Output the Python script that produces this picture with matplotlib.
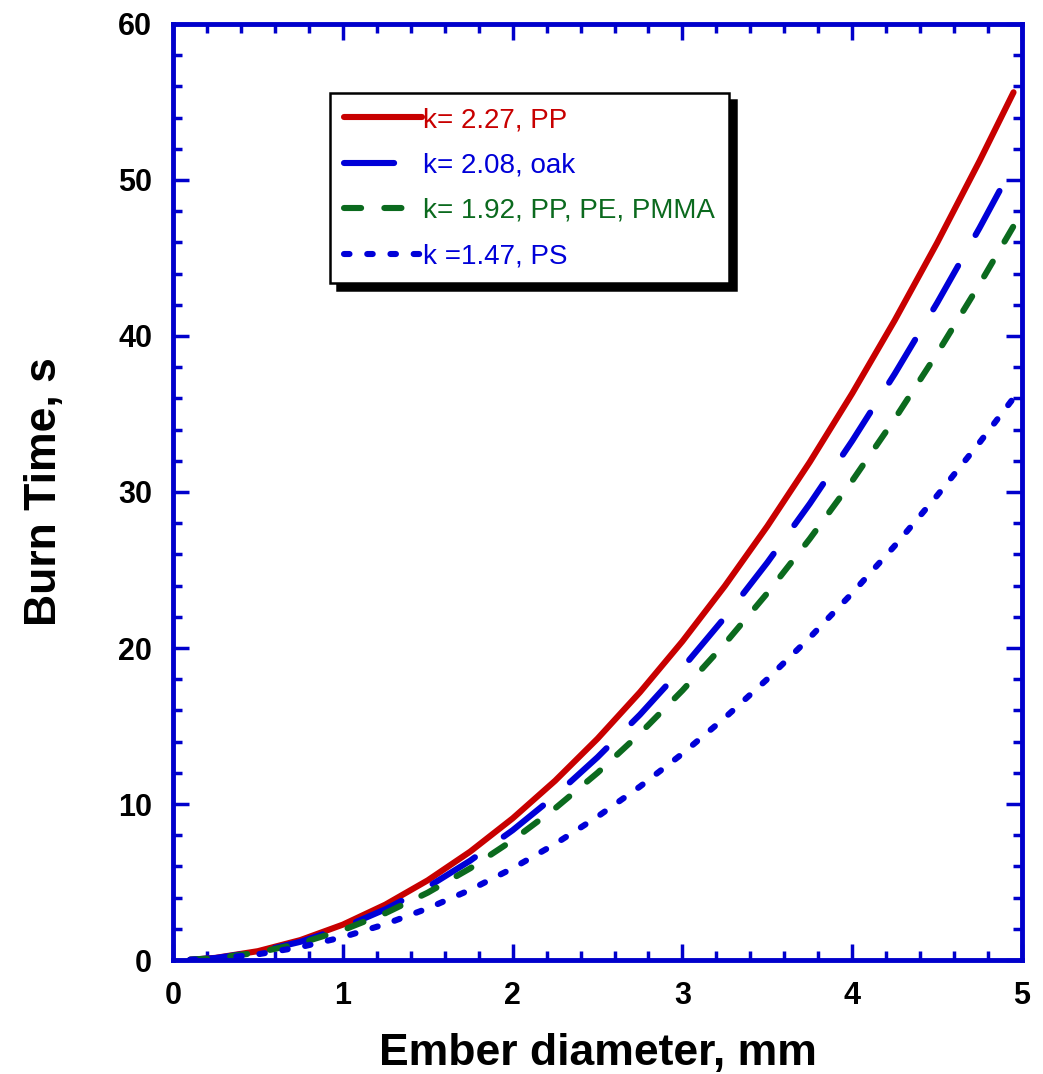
import numpy as np
import matplotlib
matplotlib.use("Agg")
import matplotlib.pyplot as plt
from matplotlib.ticker import MultipleLocator

plt.rcParams['font.family'] = ['Liberation Sans', 'DejaVu Sans']

# ember diameter, mm
diam = [0.1, 0.25, 0.5, 0.75, 1.0, 1.25, 1.5, 1.75, 2.0, 2.25, 2.5, 2.75, 3.0,
        3.25, 3.5, 3.75, 4.0, 4.25, 4.5, 4.75, 4.95]
# burn time, s
t_pp = [0.02, 0.14, 0.57, 1.28, 2.27, 3.55, 5.11, 6.95, 9.08, 11.49, 14.19, 17.17,
        20.43, 23.98, 27.81, 31.92, 36.32, 41.00, 45.97, 51.22, 55.62]
t_oak = [0.02, 0.13, 0.52, 1.17, 2.08, 3.25, 4.68, 6.37, 8.32, 10.53, 13.00, 15.73,
         18.72, 21.97, 25.48, 29.25, 33.28, 37.57, 42.12, 46.93, 50.97]
t_pe = [0.02, 0.12, 0.48, 1.08, 1.92, 3.00, 4.32, 5.88, 7.68, 9.72, 12.00, 14.52,
        17.28, 20.28, 23.52, 27.00, 30.72, 34.68, 38.88, 43.32, 47.04]
t_ps = [0.01, 0.09, 0.37, 0.83, 1.47, 2.30, 3.31, 4.50, 5.88, 7.44, 9.19, 11.12,
        13.23, 15.53, 18.01, 20.67, 23.52, 26.55, 29.77, 33.17, 36.02]

labels = ['k= 2.27, PP', 'k= 2.08, oak', 'k= 1.92, PP, PE, PMMA', 'k =1.47, PS']

red = '#C80000'
blue = '#0000D8'
green = '#0B6A1E'
axcol = '#0000CC'

fig = plt.figure(figsize=(10.43, 10.74), dpi=100)
ax = fig.add_axes([0.1659, 0.1061, 0.8140, 0.8716])

lw = 4.4
ax.plot(diam, t_pp, color=red, lw=lw, solid_capstyle='round', label=labels[0])
ax.plot(diam, t_oak, color=blue, lw=lw, ls=(0, (8.2, 5.8)),
        dash_capstyle='round', label=labels[1])
ax.plot(diam, t_pe, color=green, lw=lw, ls=(0, (2.8, 3.8)),
        dash_capstyle='round', label=labels[2])
ax.plot(diam, t_ps, color=blue, lw=lw, ls=(0, (0.9, 2.9)),
        dash_capstyle='round', label=labels[3])

ax.set_xlim(0, 5)
ax.set_ylim(0, 60)
ax.xaxis.set_major_locator(MultipleLocator(1))
ax.xaxis.set_minor_locator(MultipleLocator(0.2))
ax.yaxis.set_major_locator(MultipleLocator(10))
ax.yaxis.set_minor_locator(MultipleLocator(2))

for s in ax.spines.values():
    s.set_color(axcol)
    s.set_linewidth(3.5)
ax.tick_params(which='both', direction='in', top=True, right=True,
               color=axcol, width=2.5)
ax.tick_params(which='major', length=11.5, labelsize=22, pad=15)
ax.tick_params(which='minor', length=6.5)
for lab in ax.get_xticklabels() + ax.get_yticklabels():
    lab.set_fontweight('bold')

ax.set_xlabel('Ember diameter, mm', fontsize=32, fontweight='bold', labelpad=16)
ax.set_ylabel('Burn Time, s', fontsize=32, fontweight='bold', labelpad=38)

leg = ax.legend(loc='upper left', bbox_to_anchor=(0.185, 0.926), fontsize=20,
                frameon=True, fancybox=False, edgecolor='black',
                shadow={'ox': 5, 'oy': -5, 'color': 'black', 'alpha': 1},
                handlelength=2.8, handletextpad=0.05, labelspacing=0.7,
                borderpad=0.5, borderaxespad=0)
leg.get_frame().set_linewidth(1.8)
for txt, c in zip(leg.get_texts(), [red, blue, green, blue]):
    txt.set_color(c)

fig.savefig('out.png', dpi=100)
